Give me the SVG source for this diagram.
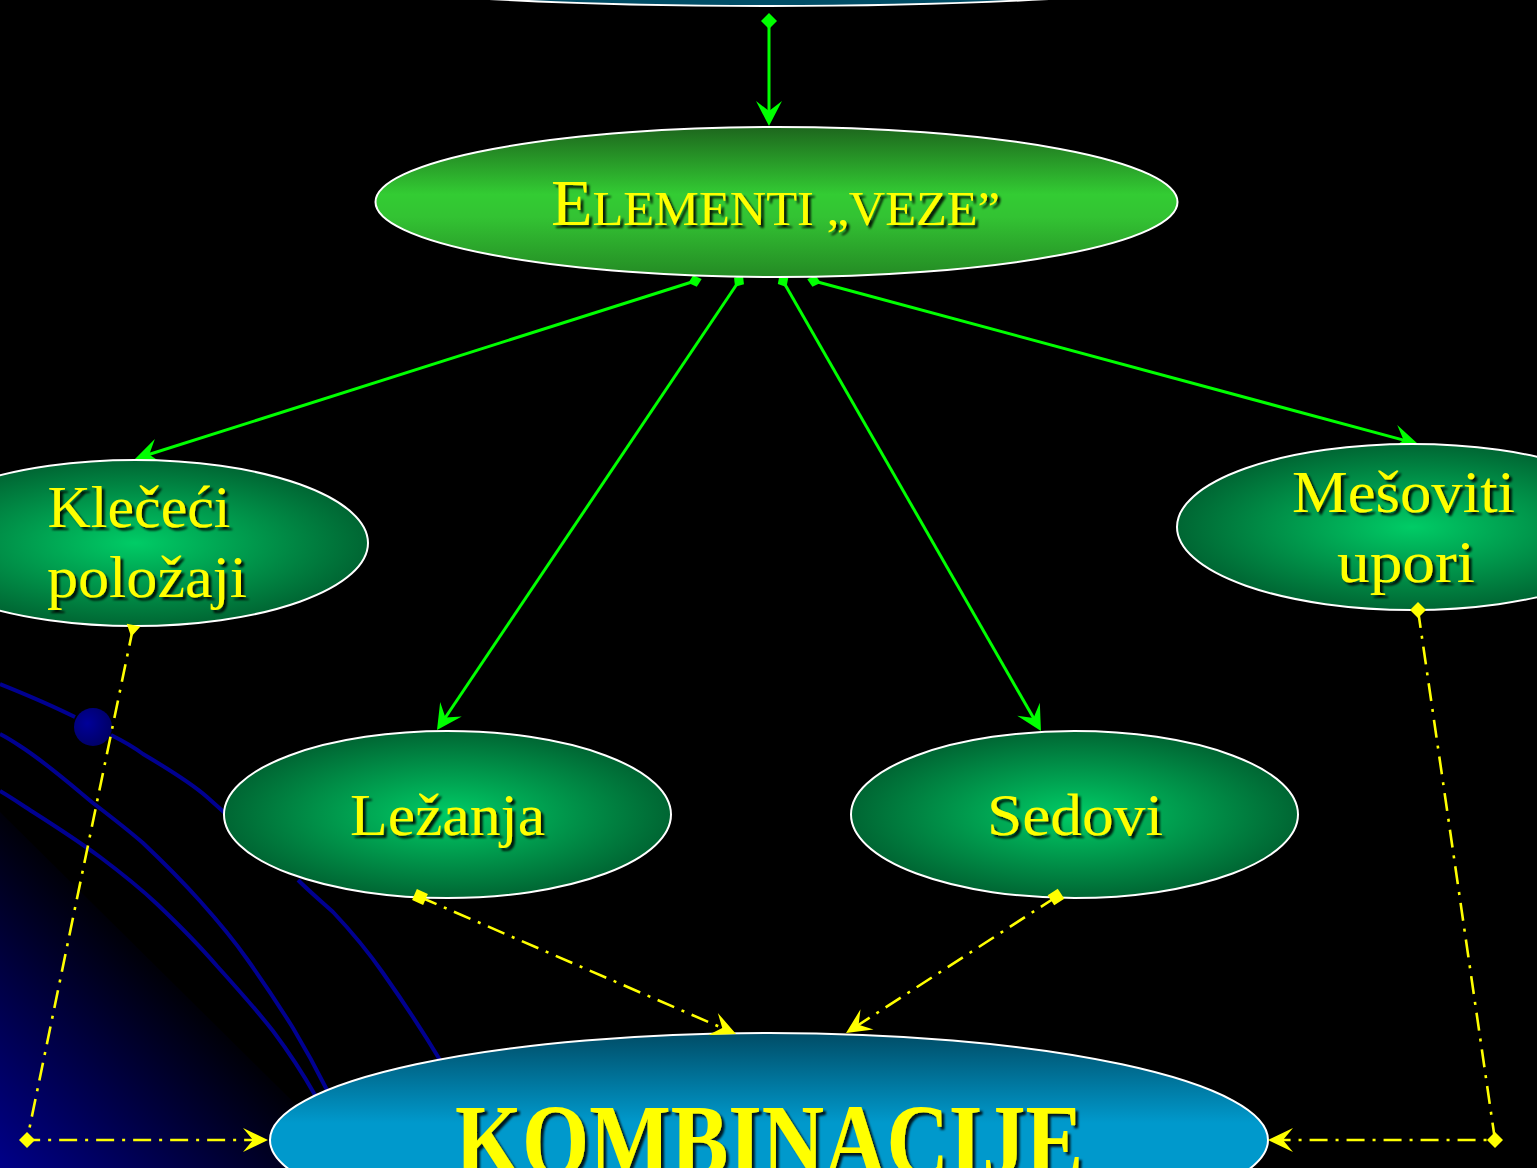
<svg xmlns="http://www.w3.org/2000/svg" width="1537" height="1168" viewBox="0 0 1537 1168">
<style>
.node{stroke:#ffffff;stroke-width:2}
.lbl{font-family:"Liberation Serif","Times New Roman",serif;fill:#ffff00;text-anchor:middle;filter:url(#sh)}
.g{fill:none;stroke:#00ff00;stroke-width:3}
.y{fill:none;stroke:#ffff00;stroke-width:2.6;stroke-dasharray:18 8 3 8}
.arc{fill:none;stroke:#000090;stroke-width:4;stroke-linejoin:round}
</style>
<defs>
<filter id="sh" x="-10%" y="-20%" width="125%" height="150%">
<feDropShadow dx="3" dy="3" stdDeviation="1.2" flood-color="#000" flood-opacity="0.85"/>
</filter>
<radialGradient id="gN" cx="50%" cy="50%" r="50%">
<stop offset="0" stop-color="#00cc66"/>
<stop offset="1" stop-color="#006633"/>
</radialGradient>
<linearGradient id="gE" x1="0" y1="0" x2="0" y2="1">
<stop offset="0" stop-color="#1d661d"/>
<stop offset="0.45" stop-color="#33cc33"/>
<stop offset="0.6" stop-color="#33c333"/>
<stop offset="1" stop-color="#248a24"/>
</linearGradient>
<linearGradient id="gK" x1="0" y1="0" x2="0" y2="1">
<stop offset="0" stop-color="#004c66"/>
<stop offset="0.42" stop-color="#0099cc"/>
<stop offset="1" stop-color="#0099cc"/>
</linearGradient>
<linearGradient id="gBg" gradientUnits="userSpaceOnUse" x1="0" y1="1168" x2="180" y2="990">
<stop offset="0" stop-color="#000088"/>
<stop offset="1" stop-color="#000008"/>
</linearGradient>
<radialGradient id="gDot" cx="35%" cy="40%" r="65%">
<stop offset="0" stop-color="#000099"/>
<stop offset="1" stop-color="#000066"/>
</radialGradient>
<marker id="arG" markerUnits="userSpaceOnUse" markerWidth="40" markerHeight="40" viewBox="-20 -20 40 40" refX="0" refY="0" orient="auto">
<path d="M12,0 L-13,-13 L-3,0 L-13,13 Z" fill="#00ff00"/>
</marker>
<marker id="arY" markerUnits="userSpaceOnUse" markerWidth="40" markerHeight="40" viewBox="-20 -20 40 40" refX="0" refY="0" orient="auto">
<path d="M12,0 L-13,-12 L-3,0 L-13,12 Z" fill="#ffff00"/>
</marker>
<marker id="dmG" markerUnits="userSpaceOnUse" markerWidth="20" markerHeight="20" viewBox="-10 -10 20 20" refX="0" refY="0" orient="auto">
<path d="M-8,0 L0,-8 L8,0 L0,8 Z" fill="#00ff00"/>
</marker>
<marker id="dmGs" markerUnits="userSpaceOnUse" markerWidth="20" markerHeight="20" viewBox="-10 -10 20 20" refX="0" refY="0" orient="auto">
<path d="M-7,0 L0,-6 L7,0 L0,6 Z" fill="#00ff00"/>
</marker>
<marker id="dmY" markerUnits="userSpaceOnUse" markerWidth="20" markerHeight="20" viewBox="-10 -10 20 20" refX="0" refY="0" orient="0">
<path d="M-8,0 L0,-8 L8,0 L0,8 Z" fill="#ffff00"/>
</marker>
<marker id="sqY" markerUnits="userSpaceOnUse" markerWidth="20" markerHeight="20" viewBox="-10 -10 20 20" refX="0" refY="0" orient="auto">
<path d="M-6,-6 H6 V6 H-6 Z" fill="#ffff00"/>
</marker>
<marker id="trY" markerUnits="userSpaceOnUse" markerWidth="24" markerHeight="24" viewBox="-12 -12 24 24" refX="0" refY="0" orient="auto">
<path d="M-3,-7 L-3,7 L9,0 Z" fill="#ffff00"/>
</marker>
</defs>
<rect x="0" y="0" width="1537" height="1168" fill="#000000"/>
<g id="decor">
<polygon points="0,812 360,1168 0,1168" fill="url(#gBg)"/>
<path class="arc" d="M0,684 C30,696 55,707 75,717 M111,735 C125,742 135,748 143,754 C165,767 190,782 207,797 L226,814 M298,880 C310,892 322,902 333,912 C350,930 367,950 383,973 C402,1000 422,1030 440,1060"/>
<path class="arc" d="M0,734 C8,738 14,742 20,746 C45,762 70,784 93,803 C110,816 128,830 143,843 C162,861 182,881 200,901 C217,920 233,939 247,959 C262,980 278,1004 293,1028 C305,1048 316,1068 327,1090"/>
<path class="arc" stroke-width="3.5" d="M0,791 C12,798 22,805 33,812 C55,826 78,841 100,857 C120,872 140,888 157,904 C178,924 198,944 217,966 C236,987 255,1008 273,1031 C288,1051 302,1072 315,1095"/>
<circle cx="93" cy="727" r="19" fill="url(#gDot)"/>
</g>
<g id="connectors-green">
<line class="g" x1="769" y1="21" x2="769" y2="114" marker-start="url(#dmG)" marker-end="url(#arG)"/>
<line class="g" x1="695" y1="281" x2="146.4" y2="455.3" marker-start="url(#dmGs)" marker-end="url(#arG)"/>
<line class="g" x1="739" y1="281" x2="443.7" y2="720" marker-start="url(#dmGs)" marker-end="url(#arG)"/>
<line class="g" x1="783" y1="281" x2="1035" y2="720.6" marker-start="url(#dmGs)" marker-end="url(#arG)"/>
<line class="g" x1="814" y1="281" x2="1406.4" y2="440.9" marker-start="url(#dmGs)" marker-end="url(#arG)"/>
</g>
<g id="node-top">
<ellipse class="node" cx="769" cy="-54" rx="590" ry="60" fill="#004d66"/>
</g>
<g id="node-elementi">
<ellipse class="node" cx="776.5" cy="202" rx="401" ry="75" fill="url(#gE)"/>
<text class="lbl" x="775.5" y="225" textLength="449" lengthAdjust="spacingAndGlyphs"><tspan font-size="66">E</tspan><tspan font-size="49">LEMENTI „VEZE”</tspan></text>
</g>
<g id="node-klececi">
<ellipse class="node" cx="135" cy="543" rx="233" ry="83" fill="url(#gN)"/>
<text class="lbl" font-size="60" x="139" y="527" textLength="183" lengthAdjust="spacingAndGlyphs">Klečeći</text>
<text class="lbl" font-size="60" x="147" y="597" textLength="200" lengthAdjust="spacingAndGlyphs">položaji</text>
</g>
<g id="node-mesoviti">
<ellipse class="node" cx="1412" cy="527" rx="235" ry="83" fill="url(#gN)"/>
<text class="lbl" font-size="60" x="1403.5" y="512" textLength="223" lengthAdjust="spacingAndGlyphs">Mešoviti</text>
<text class="lbl" font-size="60" x="1406" y="582" textLength="138" lengthAdjust="spacingAndGlyphs">upori</text>
</g>
<g id="node-lezanja">
<ellipse class="node" cx="447.5" cy="814.5" rx="223.5" ry="83.5" fill="url(#gN)"/>
<text class="lbl" font-size="60" x="447.5" y="835" textLength="195" lengthAdjust="spacingAndGlyphs">Ležanja</text>
</g>
<g id="node-sedovi">
<ellipse class="node" cx="1074.5" cy="814.5" rx="223.5" ry="83.5" fill="url(#gN)"/>
<text class="lbl" font-size="60" x="1075" y="835" textLength="176" lengthAdjust="spacingAndGlyphs">Sedovi</text>
</g>
<g id="node-kombinacije">
<ellipse class="node" cx="769" cy="1140" rx="499" ry="107" fill="url(#gK)"/>
<text class="lbl" font-size="104" font-weight="bold" x="769" y="1176" textLength="628" lengthAdjust="spacingAndGlyphs">KOMBINACIJE</text>
</g>
<g id="connectors-yellow">
<polyline class="y" points="133,628 27,1140 256,1140" marker-start="url(#trY)" marker-mid="url(#dmY)" marker-end="url(#arY)"/>
<polyline class="y" points="1418,610 1495,1140 1280,1140" marker-start="url(#dmY)" marker-mid="url(#dmY)" marker-end="url(#arY)"/>
<line class="y" x1="420" y1="897" x2="725" y2="1029.2" marker-start="url(#sqY)" marker-end="url(#arY)"/>
<line class="y" x1="1056" y1="897" x2="856.1" y2="1026.5" marker-start="url(#sqY)" marker-end="url(#arY)"/>
</g>
</svg>
